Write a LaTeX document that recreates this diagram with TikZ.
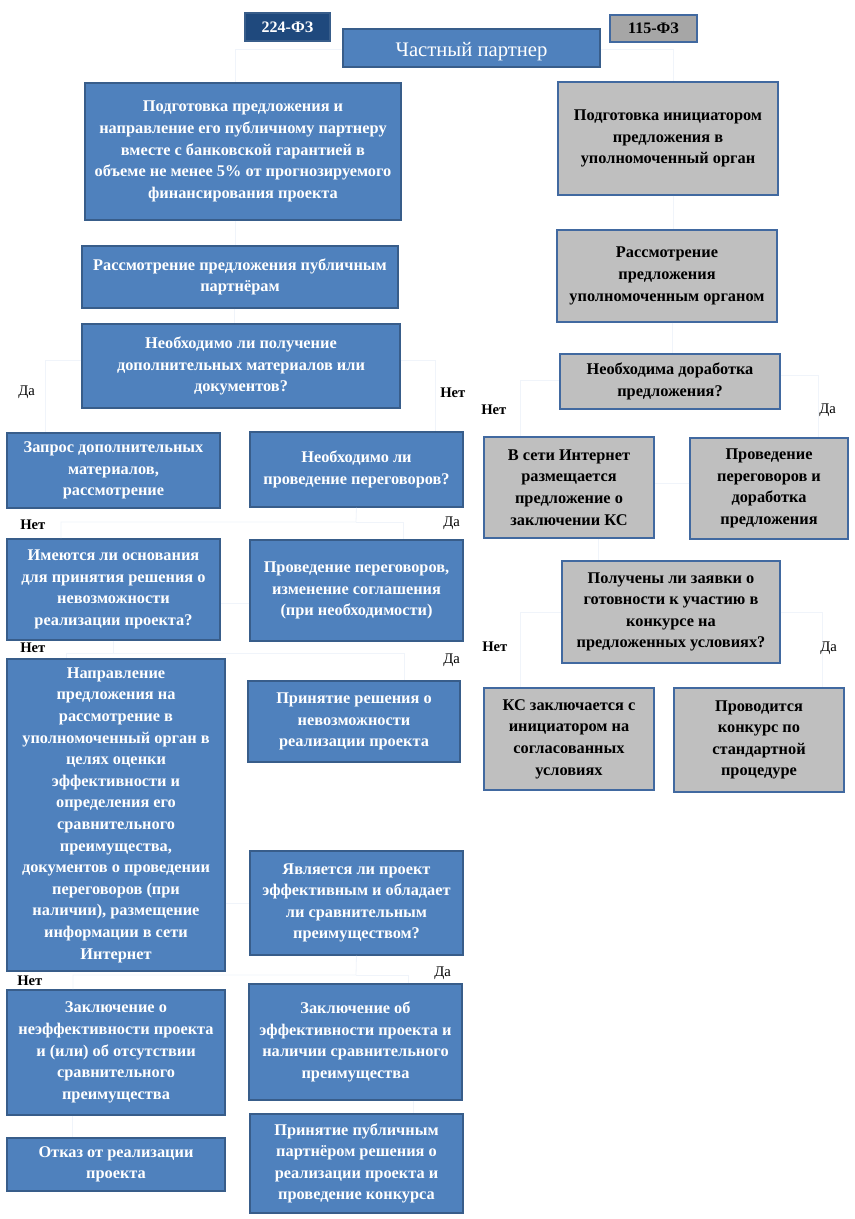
\documentclass[tikz,border=0pt]{standalone}
\usepackage{fontspec}
\setmainfont{Liberation Serif}
\definecolor{bfill}{RGB}{79,129,189}
\definecolor{bdraw}{RGB}{56,93,138}
\definecolor{gfill}{RGB}{191,191,191}
\definecolor{gdraw}{RGB}{65,105,160}
\definecolor{navy}{RGB}{31,73,125}
\definecolor{gfz}{RGB}{166,166,166}
\definecolor{faint}{RGB}{240,244,250}
\tikzset{
  box/.style={inner sep=0pt, line width=1.4pt, align=center,
    font=\bfseries\fontsize{12.25}{16.2}\selectfont},
  bluebox/.style={box, draw=bdraw, fill=bfill, text=white, execute at begin node={\rule{0pt}{16pt}}},
  graybox/.style={box, draw=gdraw, fill=gfill, text=black, execute at begin node={\rule{0pt}{16pt}}},
  sz/.style 2 args={minimum width=#1, minimum height=#2},
  conn/.style={draw=faint, line width=0.6pt},
  yes/.style={anchor=west, inner sep=0pt, font=\fontsize{11}{13}\selectfont},
  no/.style={anchor=west, inner sep=0pt, font=\bfseries\fontsize{11}{13}\selectfont},
}
\begin{document}
\begin{tikzpicture}[x=0.75pt,y=-0.75pt]
\useasboundingbox[fill=white] (0,0) rectangle (854,1219);
% header
\node[box, draw=bdraw, fill=navy, text=white, font=\bfseries\fontsize{12}{14}\selectfont, sz={63.75pt}{21pt}] (fz224) at (287.5,27) {224-ФЗ};
\node[box, draw=gdraw, fill=gfz, text=black, font=\bfseries\fontsize{12}{14}\selectfont, sz={65.25pt}{20.25pt}] (fz115) at (653.5,28.5) {115-ФЗ};
\node[bluebox, font=\fontsize{15.5}{18}\selectfont, sz={192.75pt}{28.5pt}] (cp) at (471.5,48) {Частный партнер};
% left column (224-FZ)
\node[bluebox, sz={237pt}{102.75pt}] (b1) at (243,151.5) {Подготовка предложения и\\направление его публичному партнеру\\вместе с банковской гарантией в\\объеме не менее 5\% от прогнозируемого\\финансирования проекта};
\node[bluebox, sz={237pt}{46.5pt}] (b2) at (240,277) {Рассмотрение предложения публичным\\партнёрам};
\node[bluebox, sz={238.5pt}{63pt}] (b3) at (241,366) {Необходимо ли получение\\дополнительных материалов или\\документов?};
\node[bluebox, sz={159.75pt}{56.25pt}] (l1) at (113.5,470.5) {Запрос дополнительных\\материалов,\\рассмотрение};
\node[bluebox, sz={159.75pt}{56.25pt}] (r1) at (356.5,469.5) {Необходимо ли\\проведение переговоров?};
\node[bluebox, sz={159.75pt}{75.75pt}] (l2) at (113.5,589.5) {Имеются ли основания\\для принятия решения о\\невозможности\\реализации проекта?};
\node[bluebox, sz={159.75pt}{75.75pt}] (r2) at (356.5,590.5) {Проведение переговоров,\\изменение соглашения\\(при необходимости)};
\node[bluebox, sz={163.5pt}{234pt}] (l3) at (116,815) {Направление\\предложения на\\рассмотрение в\\уполномоченный орган в\\целях оценки\\эффективности и\\определения его\\сравнительного\\преимущества,\\документов о проведении\\переговоров (при\\наличии), размещение\\информации в сети\\Интернет};
\node[bluebox, sz={159pt}{60.75pt}] (r3) at (354,721.5) {Принятие решения о\\невозможности\\реализации проекта};
\node[bluebox, sz={159.75pt}{78pt}] (r4) at (356.5,903) {Является ли проект\\эффективным и обладает\\ли сравнительным\\преимуществом?};
\node[bluebox, sz={163.5pt}{93.75pt}] (l4) at (116,1052.5) {Заключение о\\неэффективности проекта\\и (или) об отсутствии\\сравнительного\\преимущества};
\node[bluebox, sz={159.75pt}{87pt}] (r5) at (355.5,1042) {Заключение об\\эффективности проекта и\\наличии сравнительного\\преимущества};
\node[bluebox, sz={163.5pt}{39.75pt}] (l5) at (116,1164.5) {Отказ от реализации\\проекта};
\node[bluebox, sz={159.75pt}{74.25pt}] (r6) at (356.5,1163.5) {Принятие публичным\\партнёром решения о\\реализации проекта и\\проведение конкурса};
% right column (115-FZ)
\node[graybox, sz={165pt}{84.75pt}] (g1) at (668,138.5) {Подготовка инициатором\\предложения в\\уполномоченный орган};
\node[graybox, sz={165pt}{69pt}] (g2) at (667,276) {Рассмотрение\\предложения\\уполномоченным органом};
\node[graybox, sz={165pt}{41.25pt}] (g3) at (670,381.5) {Необходима доработка\\предложения?};
\node[graybox, sz={127.5pt}{75.75pt}] (g4) at (569,487.5) {В сети Интернет\\размещается\\предложение о\\заключении КС};
\node[graybox, sz={118.5pt}{75.75pt}] (g5) at (769,488.5) {Проведение\\переговоров и\\доработка\\предложения};
\node[graybox, sz={163.5pt}{76.5pt}] (g6) at (671,612) {Получены ли заявки о\\готовности к участию в\\конкурсе на\\предложенных условиях?};
\node[graybox, sz={127.5pt}{76.5pt}] (g7) at (569,739) {КС заключается с\\инициатором на\\согласованных\\условиях};
\node[graybox, sz={127.5pt}{78pt}] (g8) at (759,740) {Проводится\\конкурс по\\стандартной\\процедуре};
% faint connectors
\draw[conn] (cp.west |- 0,49) -| (b1.north -| 235,0);
\draw[conn] (cp.east |- 0,49) -| (g1.north -| 673,0);
\draw[conn] (b1.south -| 235,0) -- (b2.north -| 235,0);
\draw[conn] (b2.south -| 234,0) -- (b3.north -| 234,0);
\draw[conn] (b3.west |- 0,360) -| (l1.north -| 45,0);
\draw[conn] (b3.east |- 0,360) -| (r1.north -| 435,0);
\draw[conn] (r1.south) -- (356,522) -| (l2.north -| 61,0);
\draw[conn] (356,522) -| (r2.north -| 403,0);
\draw[conn] (r2.west |- 0,603) -- (l2.east |- 0,603);
\draw[conn] (l2.south -| 113,0) -- (113,653) -| (l3.north -| 66,0);
\draw[conn] (113,653) -| (r3.north -| 404,0);
\draw[conn] (l3.east |- 0,903) -- (r4.west |- 0,903);
\draw[conn] (r4.south) -- (356,975) -| (l4.north -| 73,0);
\draw[conn] (356,975) -| (r5.north -| 408,0);
\draw[conn] (l4.south -| 72,0) -- (l5.north -| 72,0);
\draw[conn] (r5.south -| 413,0) -- (r6.north -| 413,0);
\draw[conn] (g1.south -| 673,0) -- (g2.north -| 673,0);
\draw[conn] (g2.south -| 672,0) -- (g3.north -| 672,0);
\draw[conn] (g3.west |- 0,380) -| (g4.north -| 520,0);
\draw[conn] (g3.east |- 0,375) -| (g5.north -| 818,0);
\draw[conn] (g5.west |- 0,483) -- (g4.east |- 0,483);
\draw[conn] (g4.south -| 598,0) -- (g6.north -| 598,0);
\draw[conn] (g6.west |- 0,612) -| (g7.north -| 520,0);
\draw[conn] (g6.east |- 0,612) -| (g8.north -| 822,0);
% labels
\node[yes] (y1) at (18,392) {Да};
\node[no] (n1) at (440,393) {Нет};
\node[no] (n2) at (481,410) {Нет};
\node[yes] (y2) at (819,410) {Да};
\node[no] (n3) at (20,525) {Нет};
\node[yes] (y3) at (443,523) {Да};
\node[no] (n4) at (482,647) {Нет};
\node[yes] (y4) at (820,648) {Да};
\node[no] (n5) at (20,648) {Нет};
\node[yes] (y5) at (443,660) {Да};
\node[no] (n6) at (17,981) {Нет};
\node[yes] (y6) at (434,973) {Да};
\end{tikzpicture}
\end{document}
